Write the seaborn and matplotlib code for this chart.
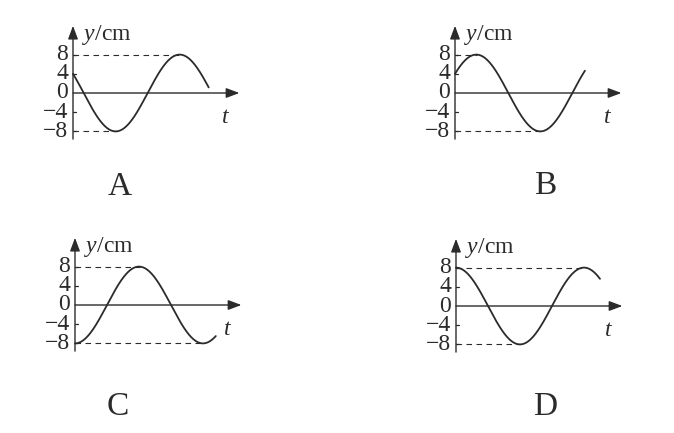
import numpy as np
import matplotlib
matplotlib.use("Agg")
from matplotlib import pyplot as plt
import seaborn as sns

# ---chart data---
panel_names = ["A", "B", "C", "D"]
amplitude = 8                      # cm, every panel
start_phase = [5 / 6, 1 / 6, -1 / 2, 1 / 2]   # initial phase, in units of pi
end_time = [2.12, 2.03, 2.2, 2.25]             # last t drawn, in units of pi
tick_values = [8, 4, 0, -4, -8]
tick_labels = ["8", "4", "0", "\u22124", "\u22128"]

# ---layout (pixels of a 674x433 picture)---
W, H = 674, 433
origins = [(73, 93), (455, 93), (75, 305), (456, 306)]
label_pos = [(120, 187), (545, 186), (118, 407), (545, 407)]
sx, sy = 64, 4.8          # pixels per pi unit, pixels per cm
x0, x1 = -0.3, 2.75
y0, y1 = -10.5, 15
ink = "#2b2b2b"

sns.set_theme(style="white")
plt.rcParams["font.family"] = ["Liberation Serif", "DejaVu Serif"]
plt.rcParams["mathtext.fontset"] = "custom"
plt.rcParams["mathtext.rm"] = "Liberation Serif"
plt.rcParams["mathtext.it"] = "Liberation Serif:italic"

fig = plt.figure(figsize=(W / 100, H / 100), dpi=100)
fig.patch.set_facecolor("white")

for k in range(4):
    ox, oy = origins[k]
    left = ox + x0 * sx
    bottom = oy - y0 * sy
    ax = fig.add_axes([left / W, 1 - bottom / H, (x1 - x0) * sx / W, (y1 - y0) * sy / H])
    ax.set_xlim(x0, x1)
    ax.set_ylim(y0, y1)
    ax.set_facecolor("none")
    for s in ax.spines.values():
        s.set_visible(False)
    ax.set_xticks([])
    ax.set_yticks([])

    # the wave
    t = np.linspace(0, end_time[k], 400)
    y = amplitude * np.sin(np.pi * (t + start_phase[k]))
    sns.lineplot(x=t, y=y, ax=ax, color=ink, lw=1.3, sort=False)

    # dashed guides to the last peak and the last trough
    i_max = np.where(y > amplitude - 0.01)[0][-1]
    i_min = np.where(y < -amplitude + 0.01)[0][-1]
    ax.hlines(amplitude, 0, t[i_max], colors=ink, lw=0.8, linestyles=(0, (5, 4)))
    ax.hlines(-amplitude, 0, t[i_min], colors=ink, lw=0.8, linestyles=(0, (5, 4)))

    # axes with arrows
    arrow = dict(arrowstyle="-|>,head_length=0.8,head_width=0.3", lw=1.0,
                 color=ink, mutation_scale=10, shrinkA=0, shrinkB=0)
    ax.annotate("", xy=(0, 14), xytext=(0, -9.6), arrowprops=arrow)
    ax.annotate("", xy=(2.6, 0), xytext=(0, 0), arrowprops=arrow)

    # y ticks
    for v, lab in zip(tick_values, tick_labels):
        if v != 0:
            ax.plot([0, 0.05], [v, v], color=ink, lw=0.9)
        ax.text(-0.08, v, lab, ha="right", va="center", fontsize=17, color=ink)

    ax.text(0.14, 12.0, "$y$/cm", ha="left", va="center", fontsize=17, color=ink)
    ax.text(2.38, -5.2, "$t$", ha="center", va="center", fontsize=17, color=ink)

    lx, ly = label_pos[k]
    fig.text(lx / W, 1 - ly / H, panel_names[k], ha="center", va="center",
             fontsize=24, color=ink)

plt.savefig("out.png", dpi=100, facecolor="white")
plt.close()
